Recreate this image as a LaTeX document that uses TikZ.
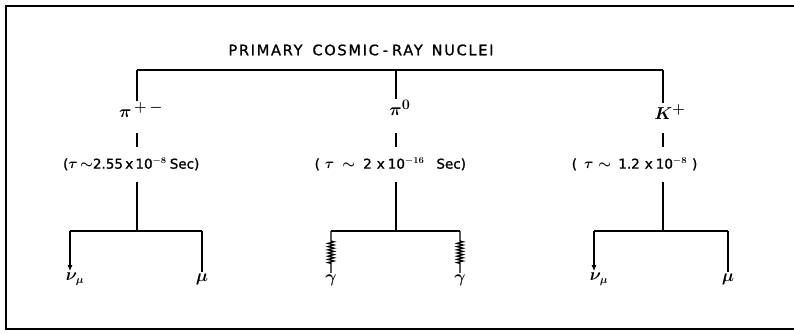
\documentclass[tikz,border=0pt]{standalone}
\usepackage{fontspec}
\setmainfont{DejaVu Sans}
\setsansfont{DejaVu Sans}
\newfontfamily\titlefont[LetterSpace=12,FakeBold=1.2]{DejaVu Sans}
\newfontfamily\lifefont[FakeBold=1.2]{DejaVu Sans}
\usetikzlibrary{arrows.meta,decorations.pathmorphing}
\begin{document}
\begin{tikzpicture}[x=1pt,y=-1pt,
  line width=1.3pt,
  every node/.style={inner sep=1pt},
  lbl/.style={font=\fontsize{19}{21}\selectfont\boldmath},
  life/.style={font=\lifefont\fontsize{13.5}{15}\selectfont\boldmath},
  prod/.style={font=\fontsize{16}{18}\selectfont\boldmath},
  tip/.style={-{Latex[length=6pt,width=5pt]}},
  spring/.style={decorate, decoration={zigzag, segment length=3.2pt, amplitude=3pt, pre length=10pt, post length=9pt}}]
\useasboundingbox (0,0) rectangle (794,333);
% frame
\draw[line width=1.4pt] (794,6) -- (6,6) -- (6,329) -- (794,329);
% title
\node[font=\titlefont\fontsize{14.5}{16}\selectfont] (title) at (361,50) {PRIMARY\hspace{10pt}COSMIC\hspace{4pt}-\hspace{4pt}RAY\hspace{9pt}NUCLEI};
% top bar
\coordinate (tl) at (137,70);
\coordinate (tm) at (396,70);
\coordinate (tr) at (663,70);
\draw (tl) -- (tr);
% particles
\node[lbl] (pipm) at (141,110) {$\pi^{\,+\,-}$};
\node[lbl] (pizero) at (400,108) {$\pi^{0}$};
\node[lbl] (kaon) at (670,112) {$K^{+}$};
\draw (tl) -- (tl |- pipm.north);
\draw (tm) -- (tm |- pizero.north);
\draw (tr) -- (tr |- kaon.north);
% lifetimes
\node[life, anchor=east] (lt1) at (201,164) {($\tau$\,$\sim$2.55\,x\,10$^{-8}$\hspace{3pt}Sec)};
\node[life, anchor=west] (lt2) at (313,164) {(\hspace{5pt}$\tau$\hspace{8pt}$\sim$\hspace{8pt}2\hspace{5pt}x\hspace{3pt}10$^{-16}$\hspace{12pt}Sec)};
\node[life, anchor=east] (lt3) at (699,164) {(\hspace{7pt}$\tau$\hspace{5pt}$\sim$\hspace{7pt}1.2\hspace{5pt}x\hspace{3pt}10$^{-8}$\hspace{5pt})};
\draw (137,133) -- (137,147);
\draw (396,133) -- (396,147);
\draw (663,133) -- (663,147);
% lower bars
\coordinate (b1) at (137,231);
\coordinate (b2) at (396,231);
\coordinate (b3) at (663,231);
\draw (137,182) -- (b1);
\draw (396,182) -- (b2);
\draw (663,182) -- (b3);
\coordinate (l1) at (70,231);
\coordinate (r1) at (202,231);
\coordinate (l2) at (331,231);
\coordinate (r2) at (460,231);
\coordinate (l3) at (594,231);
\coordinate (r3) at (728,231);
\draw (l1) -- (r1);
\draw (l2) -- (r2);
\draw (l3) -- (r3);
% products
\node[prod] (nu1) at (75,279) {$\nu_{\mu}$};
\node[prod] (mu1) at (202,279) {$\mu$};
\node[prod] (ga1) at (331,280) {$\gamma$};
\node[prod] (ga2) at (460,280) {$\gamma$};
\node[prod] (nu3) at (599,279) {$\nu_{\mu}$};
\node[prod] (mu3) at (728,279) {$\mu$};
\draw[tip] (l1) -- (l1 |- nu1.north);
\draw (r1) -- (r1 |- mu1.north);
\draw[spring] (l2) -- (l2 |- ga1.north);
\draw[spring] (r2) -- (r2 |- ga2.north);
\draw[tip] (l3) -- (l3 |- nu3.north);
\draw (r3) -- (r3 |- mu3.north);
\end{tikzpicture}
\end{document}
